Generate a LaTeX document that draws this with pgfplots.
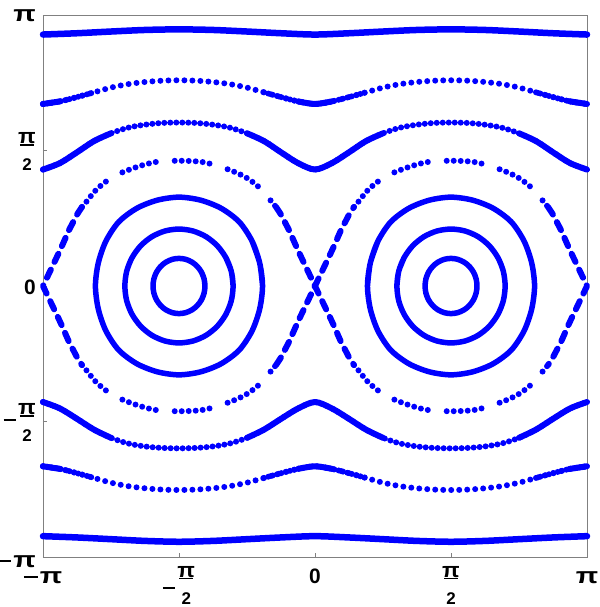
\documentclass[border=0pt]{standalone}
\usepackage{fontspec}
\setmainfont{Liberation Sans}
\usepackage{graphicx}
\usepackage{pgfplots}
\pgfplotsset{compat=1.18}

\definecolor{orb}{RGB}{0,0,255}
\definecolor{frm}{RGB}{128,128,128}

% tick label pieces (Mathematica-style bold pi and stacked fractions)
\newcommand\PI{\scalebox{1.4}[1.07]{π}}
\newcommand\PIs{\scalebox{1.1}[1]{π}}
\newcommand\MN[2]{\rule[#1]{#2}{2.6bp}}
\newcommand\HALF{\vtop{\offinterlineskip\halign{\hfil##\hfil\cr\PIs\cr\noalign{\kern0.3bp}\rule{14bp}{1.8bp}\cr\noalign{\kern13bp}{\fontsize{17}{17}\selectfont 2}\cr}}}

\pgfplotsset{
  solidorb/.style={orb, line width=#1, line cap=round, line join=round, smooth, no marks},
  solidorb/.default=6bp,
  dotorb/.style={orb, line width=6bp, line cap=round, smooth, no marks, dash pattern=on 0pt off #1},
  seporb/.style={orb, line width=6bp, line cap=round, smooth, no marks,
    dash pattern=on 0pt off 7bp on 0pt off 7bp on 0pt off 7bp on 0pt off 7bp on 0pt off 7bp on 0pt off 19bp},
  saddleorb/.style={orb, line width=6bp, line cap=round, line join=round, no marks,
    dash pattern=on 9bp off 8.5bp},
}

\begin{document}
\begin{tikzpicture}
\begin{axis}[
  scale only axis, width=544bp, height=542bp,
  xmin=-3.14159, xmax=3.14159, ymin=-3.14159, ymax=3.14159,
  clip=false,
  axis line style={frm, line width=0.8bp},
  tick style={frm, line width=0.8bp},
  tick align=inside, major tick length=4bp,
  xtick pos=left, ytick pos=left,
  xtick={-3.14159,-1.5708,0,1.5708,3.14159},
  ytick={-3.14159,-1.5708,0,1.5708,3.14159},
  xticklabels={{\MN{4.7bp}{14bp}\hspace{2bp}\PI},{\MN{-6.3bp}{12bp}\hspace{2.5bp}\raisebox{6bp}{\HALF}},0,{\raisebox{6bp}{\HALF}},\PI},
  yticklabels={{\raisebox{-10bp}{\MN{4.7bp}{15bp}\hspace{2bp}\PI}},{\MN{0.2bp}{12bp}\hspace{2.5bp}\raisebox{7bp}{\HALF}},{\raisebox{-9bp}{0}},{\raisebox{7bp}{\HALF}},{\raisebox{-6.7bp}{\PI}}},
  xticklabel style={anchor=base, inner sep=0pt, yshift=-26bp, font=\bfseries\fontsize{21}{21}\selectfont},
  yticklabel style={anchor=base east, inner sep=0pt, xshift=-7bp, font=\bfseries\fontsize{21}{21}\selectfont},
]
% outermost rotational orbits
\addplot[solidorb=6.5bp] coordinates {(-3.1416,2.915)(-2.7489,2.93)(-2.3562,2.95)(-1.9635,2.968)(-1.5708,2.975)(-1.1781,2.968)(-0.7854,2.95)(-0.3927,2.93)(0,2.915)(0.3927,2.93)(0.7854,2.95)(1.1781,2.968)(1.5708,2.975)(1.9635,2.968)(2.3562,2.95)(2.7489,2.93)(3.1416,2.915)};
\addplot[solidorb=6.5bp] coordinates {(-3.1416,-2.90)(-2.7489,-2.915)(-2.3562,-2.935)(-1.9635,-2.955)(-1.5708,-2.965)(-1.1781,-2.955)(-0.7854,-2.935)(-0.3927,-2.915)(0,-2.90)(0.3927,-2.915)(0.7854,-2.935)(1.1781,-2.955)(1.5708,-2.965)(1.9635,-2.955)(2.3562,-2.935)(2.7489,-2.915)(3.1416,-2.90)};

% second rotational orbits (dotted, denser towards the saddles)
\addplot[dotorb=8bp] coordinates {(-3.1416,2.11)(-2.9452,2.14)(-2.7489,2.19)(-2.5525,2.245)(-2.3562,2.30)(-2.1598,2.34)(-1.9635,2.365)(-1.7671,2.38)(-1.5708,2.385)(-1.3744,2.38)(-1.1781,2.365)(-0.9817,2.34)(-0.7854,2.30)(-0.5890,2.245)(-0.3927,2.19)(-0.1963,2.14)(0,2.11)(0.1963,2.14)(0.3927,2.19)(0.5890,2.245)(0.7854,2.30)(0.9817,2.34)(1.1781,2.365)(1.3744,2.38)(1.5708,2.385)(1.7671,2.38)(1.9635,2.365)(2.1598,2.34)(2.3562,2.30)(2.5525,2.245)(2.7489,2.19)(2.9452,2.14)(3.1416,2.11)};
\addplot[dotorb=4.5bp] coordinates {(-3.1416,2.11)(-2.9452,2.14)(-2.7489,2.19)(-2.5525,2.245)};
\addplot[dotorb=4.5bp] coordinates {(-0.5890,2.245)(-0.3927,2.19)(-0.1963,2.14)(0,2.11)(0.1963,2.14)(0.3927,2.19)(0.5890,2.245)};
\addplot[dotorb=4.5bp] coordinates {(2.5525,2.245)(2.7489,2.19)(2.9452,2.14)(3.1416,2.11)};
\addplot[solidorb] coordinates {(-3.1416,2.11)(-2.9452,2.14)};
\addplot[solidorb] coordinates {(-0.1963,2.14)(0,2.11)(0.1963,2.14)};
\addplot[solidorb] coordinates {(2.9452,2.14)(3.1416,2.11)};
\addplot[dotorb=8bp] coordinates {(-3.1416,-2.09)(-2.9452,-2.12)(-2.7489,-2.17)(-2.5525,-2.225)(-2.3562,-2.28)(-2.1598,-2.32)(-1.9635,-2.345)(-1.7671,-2.36)(-1.5708,-2.365)(-1.3744,-2.36)(-1.1781,-2.345)(-0.9817,-2.32)(-0.7854,-2.28)(-0.5890,-2.225)(-0.3927,-2.17)(-0.1963,-2.12)(0,-2.09)(0.1963,-2.12)(0.3927,-2.17)(0.5890,-2.225)(0.7854,-2.28)(0.9817,-2.32)(1.1781,-2.345)(1.3744,-2.36)(1.5708,-2.365)(1.7671,-2.36)(1.9635,-2.345)(2.1598,-2.32)(2.3562,-2.28)(2.5525,-2.225)(2.7489,-2.17)(2.9452,-2.12)(3.1416,-2.09)};
\addplot[dotorb=4.5bp] coordinates {(-3.1416,-2.09)(-2.9452,-2.12)(-2.7489,-2.17)(-2.5525,-2.225)};
\addplot[dotorb=4.5bp] coordinates {(-0.5890,-2.225)(-0.3927,-2.17)(-0.1963,-2.12)(0,-2.09)(0.1963,-2.12)(0.3927,-2.17)(0.5890,-2.225)};
\addplot[dotorb=4.5bp] coordinates {(2.5525,-2.225)(2.7489,-2.17)(2.9452,-2.12)(3.1416,-2.09)};
\addplot[solidorb] coordinates {(-3.1416,-2.09)(-2.9452,-2.12)};
\addplot[solidorb] coordinates {(-0.1963,-2.12)(0,-2.09)(0.1963,-2.12)};
\addplot[solidorb] coordinates {(2.9452,-2.12)(3.1416,-2.09)};

% third rotational orbits
\addplot[dotorb=6bp] coordinates {(-3.1416,1.35)(-2.9452,1.425)(-2.7489,1.55)(-2.5525,1.68)(-2.3562,1.77)(-2.1598,1.835)(-1.9635,1.87)(-1.7671,1.89)(-1.5708,1.895)(-1.3744,1.89)(-1.1781,1.87)(-0.9817,1.835)(-0.7854,1.77)(-0.5890,1.68)(-0.3927,1.55)(-0.1963,1.425)(0,1.35)(0.1963,1.425)(0.3927,1.55)(0.5890,1.68)(0.7854,1.77)(0.9817,1.835)(1.1781,1.87)(1.3744,1.89)(1.5708,1.895)(1.7671,1.89)(1.9635,1.87)(2.1598,1.835)(2.3562,1.77)(2.5525,1.68)(2.7489,1.55)(2.9452,1.425)(3.1416,1.35)};
\addplot[solidorb] coordinates {(-3.1416,1.35)(-2.9452,1.425)(-2.7489,1.55)(-2.5525,1.68)(-2.3562,1.77)};
\addplot[solidorb] coordinates {(-0.7854,1.77)(-0.5890,1.68)(-0.3927,1.55)(-0.1963,1.425)(0,1.35)(0.1963,1.425)(0.3927,1.55)(0.5890,1.68)(0.7854,1.77)};
\addplot[solidorb] coordinates {(2.3562,1.77)(2.5525,1.68)(2.7489,1.55)(2.9452,1.425)(3.1416,1.35)};
\addplot[dotorb=6bp] coordinates {(-3.1416,-1.345)(-2.9452,-1.42)(-2.7489,-1.54)(-2.5525,-1.665)(-2.3562,-1.76)(-2.1598,-1.825)(-1.9635,-1.86)(-1.7671,-1.877)(-1.5708,-1.882)(-1.3744,-1.877)(-1.1781,-1.86)(-0.9817,-1.825)(-0.7854,-1.76)(-0.5890,-1.665)(-0.3927,-1.54)(-0.1963,-1.42)(0,-1.345)(0.1963,-1.42)(0.3927,-1.54)(0.5890,-1.665)(0.7854,-1.76)(0.9817,-1.825)(1.1781,-1.86)(1.3744,-1.877)(1.5708,-1.882)(1.7671,-1.877)(1.9635,-1.86)(2.1598,-1.825)(2.3562,-1.76)(2.5525,-1.665)(2.7489,-1.54)(2.9452,-1.42)(3.1416,-1.345)};
\addplot[solidorb] coordinates {(-3.1416,-1.345)(-2.9452,-1.42)(-2.7489,-1.54)(-2.5525,-1.665)(-2.3562,-1.76)};
\addplot[solidorb] coordinates {(-0.7854,-1.76)(-0.5890,-1.665)(-0.3927,-1.54)(-0.1963,-1.42)(0,-1.345)(0.1963,-1.42)(0.3927,-1.54)(0.5890,-1.665)(0.7854,-1.76)};
\addplot[solidorb] coordinates {(2.3562,-1.76)(2.5525,-1.665)(2.7489,-1.54)(2.9452,-1.42)(3.1416,-1.345)};

% separatrix layer: arcs between the saddles
\addplot[seporb] coordinates {(-2.6916,0.916)(-2.6416,0.975)(-2.5416,1.10)(-2.4416,1.19)(-2.3416,1.26)(-2.2416,1.31)(-2.1416,1.35)(-2.0416,1.385)(-1.9416,1.415)(-1.8416,1.437)(-1.7416,1.447)(-1.5708,1.452)(-1.4,1.447)(-1.3,1.437)(-1.2,1.415)(-1.1,1.385)(-1.0,1.35)(-0.9,1.31)(-0.8,1.26)(-0.7,1.19)(-0.6,1.10)(-0.5,0.975)(-0.45,0.916)};
\addplot[seporb] coordinates {(0.45,0.916)(0.5,0.975)(0.6,1.10)(0.7,1.19)(0.8,1.26)(0.9,1.31)(1.0,1.35)(1.1,1.385)(1.2,1.415)(1.3,1.437)(1.4,1.447)(1.5708,1.452)(1.7416,1.447)(1.8416,1.437)(1.9416,1.415)(2.0416,1.385)(2.1416,1.35)(2.2416,1.31)(2.3416,1.26)(2.4416,1.19)(2.5416,1.10)(2.6416,0.975)(2.6916,0.916)};
\addplot[seporb] coordinates {(-2.6916,-0.916)(-2.6416,-0.975)(-2.5416,-1.10)(-2.4416,-1.19)(-2.3416,-1.26)(-2.2416,-1.31)(-2.1416,-1.35)(-2.0416,-1.385)(-1.9416,-1.415)(-1.8416,-1.437)(-1.7416,-1.447)(-1.5708,-1.452)(-1.4,-1.447)(-1.3,-1.437)(-1.2,-1.415)(-1.1,-1.385)(-1.0,-1.35)(-0.9,-1.31)(-0.8,-1.26)(-0.7,-1.19)(-0.6,-1.10)(-0.5,-0.975)(-0.45,-0.916)};
\addplot[seporb] coordinates {(0.45,-0.916)(0.5,-0.975)(0.6,-1.10)(0.7,-1.19)(0.8,-1.26)(0.9,-1.31)(1.0,-1.35)(1.1,-1.385)(1.2,-1.415)(1.3,-1.437)(1.4,-1.447)(1.5708,-1.452)(1.7416,-1.447)(1.8416,-1.437)(1.9416,-1.415)(2.0416,-1.385)(2.1416,-1.35)(2.2416,-1.31)(2.3416,-1.26)(2.4416,-1.19)(2.5416,-1.10)(2.6416,-0.975)(2.6916,-0.916)};
% separatrix near the saddles (0,0) and (+-pi,0)
\addplot[saddleorb] coordinates {(-0.45,0.916)(-0.4,0.84)(-0.3,0.648)(-0.2,0.42)(-0.1,0.21)(0,0)(0.1,-0.21)(0.2,-0.42)(0.3,-0.648)(0.4,-0.84)(0.45,-0.916)};
\addplot[saddleorb] coordinates {(-0.45,-0.916)(-0.4,-0.84)(-0.3,-0.648)(-0.2,-0.42)(-0.1,-0.21)(0,0)(0.1,0.21)(0.2,0.42)(0.3,0.648)(0.4,0.84)(0.45,0.916)};
\addplot[saddleorb] coordinates {(-2.6916,0.916)(-2.7416,0.84)(-2.8416,0.648)(-2.9416,0.42)(-3.0416,0.21)(-3.1416,0)(-3.0416,-0.21)(-2.9416,-0.42)(-2.8416,-0.648)(-2.7416,-0.84)(-2.6916,-0.916)};
\addplot[saddleorb] coordinates {(2.6916,0.916)(2.7416,0.84)(2.8416,0.648)(2.9416,0.42)(3.0416,0.21)(3.1416,0)(3.0416,-0.21)(2.9416,-0.42)(2.8416,-0.648)(2.7416,-0.84)(2.6916,-0.916)};

% closed orbits around (-pi/2,0)
\addplot[solidorb=5.5bp] coordinates {(-1.271,0)(-1.281,0.0828)(-1.311,0.16)(-1.359,0.2263)(-1.421,0.2771)(-1.493,0.3091)(-1.571,0.32)(-1.648,0.3091)(-1.721,0.2771)(-1.783,0.2263)(-1.831,0.16)(-1.861,0.0828)(-1.871,0)(-1.861,-0.0828)(-1.831,-0.16)(-1.783,-0.2263)(-1.721,-0.2771)(-1.648,-0.3091)(-1.571,-0.32)(-1.493,-0.3091)(-1.421,-0.2771)(-1.359,-0.2263)(-1.311,-0.16)(-1.281,-0.0828)(-1.271,0)(-1.281,0.0828)(-1.311,0.16)};
\addplot[solidorb=5.5bp] coordinates {(-0.946,0)(-0.967,0.1708)(-1.030,0.33)(-1.129,0.4667)(-1.258,0.5716)(-1.409,0.6375)(-1.571,0.66)(-1.733,0.6375)(-1.884,0.5716)(-2.013,0.4667)(-2.112,0.33)(-2.175,0.1708)(-2.196,0)(-2.175,-0.1708)(-2.112,-0.33)(-2.013,-0.4667)(-1.884,-0.5716)(-1.733,-0.6375)(-1.571,-0.66)(-1.409,-0.6375)(-1.258,-0.5716)(-1.129,-0.4667)(-1.030,-0.33)(-0.967,-0.1708)(-0.946,0)(-0.967,0.1708)(-1.030,0.33)};
\addplot[solidorb=5.5bp] coordinates {(-0.606,0)(-0.639,0.2666)(-0.727,0.5202)(-0.875,0.7429)(-1.084,0.9009)(-1.321,0.9949)(-1.571,1.03)(-1.821,0.9949)(-2.058,0.9009)(-2.267,0.7429)(-2.415,0.5202)(-2.503,0.2666)(-2.536,0)(-2.503,-0.2666)(-2.415,-0.5202)(-2.267,-0.7429)(-2.058,-0.9009)(-1.821,-0.9949)(-1.571,-1.03)(-1.321,-0.9949)(-1.084,-0.9009)(-0.875,-0.7429)(-0.727,-0.5202)(-0.639,-0.2666)(-0.606,0)(-0.639,0.2666)(-0.727,0.5202)};
% closed orbits around (pi/2,0)
\addplot[solidorb=5.5bp] coordinates {(1.271,0)(1.281,0.0828)(1.311,0.16)(1.359,0.2263)(1.421,0.2771)(1.493,0.3091)(1.571,0.32)(1.648,0.3091)(1.721,0.2771)(1.783,0.2263)(1.831,0.16)(1.861,0.0828)(1.871,0)(1.861,-0.0828)(1.831,-0.16)(1.783,-0.2263)(1.721,-0.2771)(1.648,-0.3091)(1.571,-0.32)(1.493,-0.3091)(1.421,-0.2771)(1.359,-0.2263)(1.311,-0.16)(1.281,-0.0828)(1.271,0)(1.281,0.0828)(1.311,0.16)};
\addplot[solidorb=5.5bp] coordinates {(0.946,0)(0.967,0.1708)(1.030,0.33)(1.129,0.4667)(1.258,0.5716)(1.409,0.6375)(1.571,0.66)(1.733,0.6375)(1.884,0.5716)(2.013,0.4667)(2.112,0.33)(2.175,0.1708)(2.196,0)(2.175,-0.1708)(2.112,-0.33)(2.013,-0.4667)(1.884,-0.5716)(1.733,-0.6375)(1.571,-0.66)(1.409,-0.6375)(1.258,-0.5716)(1.129,-0.4667)(1.030,-0.33)(0.967,-0.1708)(0.946,0)(0.967,0.1708)(1.030,0.33)};
\addplot[solidorb=5.5bp] coordinates {(0.606,0)(0.639,0.2666)(0.727,0.5202)(0.875,0.7429)(1.084,0.9009)(1.321,0.9949)(1.571,1.03)(1.821,0.9949)(2.058,0.9009)(2.267,0.7429)(2.415,0.5202)(2.503,0.2666)(2.536,0)(2.503,-0.2666)(2.415,-0.5202)(2.267,-0.7429)(2.058,-0.9009)(1.821,-0.9949)(1.571,-1.03)(1.321,-0.9949)(1.084,-0.9009)(0.875,-0.7429)(0.727,-0.5202)(0.639,-0.2666)(0.606,0)(0.639,0.2666)(0.727,0.5202)};
\end{axis}
\pgfresetboundingbox
\path (current axis.south west) ++(-43bp,-50bp) rectangle ++(600bp,607bp);
\end{tikzpicture}
\end{document}
